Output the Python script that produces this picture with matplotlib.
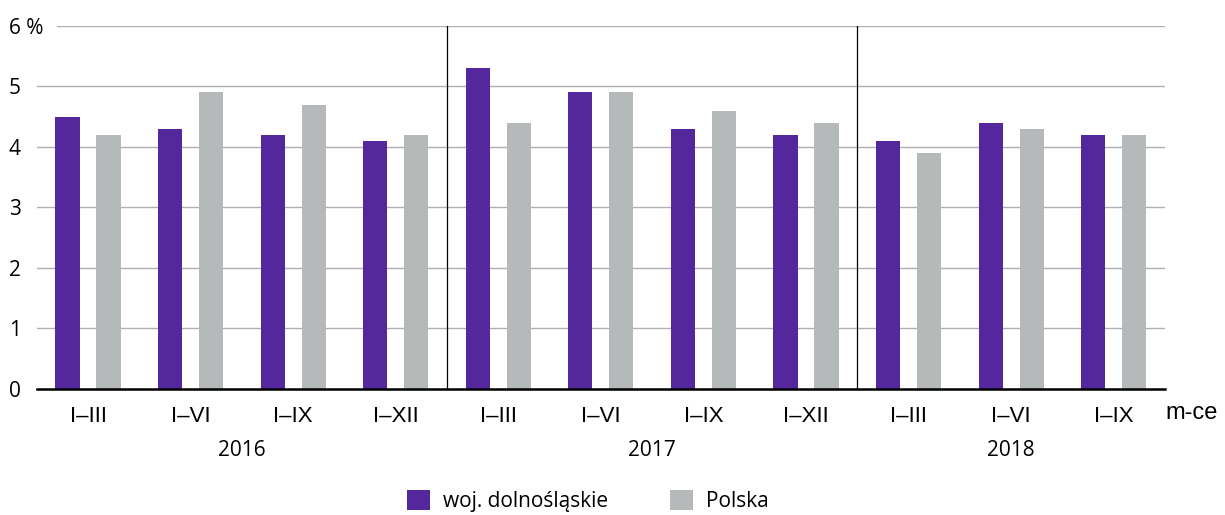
import matplotlib.pyplot as plt
import numpy as np

# Data
periods = ['I–III', 'I–VI', 'I–IX', 'I–XII',
           'I–III', 'I–VI', 'I–IX', 'I–XII',
           'I–III', 'I–VI', 'I–IX']
years = ['2016', '2017', '2018']
year_sizes = [4, 4, 3]
dolnoslaskie = [4.5, 4.3, 4.2, 4.1, 5.3, 4.9, 4.3, 4.2, 4.1, 4.4, 4.2]
polska = [4.2, 4.9, 4.7, 4.2, 4.4, 4.9, 4.6, 4.4, 3.9, 4.3, 4.2]
ylabels = ['0', '1', '2', '3', '4', '5', '6 %']

purple = '#54289c'
grey = '#b6b9b9'

fig = plt.figure(figsize=(12.25, 5.15), dpi=100)
ax = fig.add_axes([0.030, 0.2447, 0.921, 0.705])

x = np.arange(len(periods))
w = 0.235
ax.bar(x - 0.2, dolnoslaskie, w, color=purple, label='woj. dolnośląskie', zorder=3)
ax.bar(x + 0.2, polska, w, color=grey, label='Polska', zorder=3)

ax.set_xlim(-0.5, len(periods) - 0.5)
ax.set_ylim(0, 6)
ax.set_yticks(range(7))
ax.set_yticklabels(ylabels, fontsize=15, family='Open Sans', ha='left')
# gridlines (top one shortened to leave room for the "6 %" label)
for v in range(1, 7):
    ax.axhline(v, xmin=0.0177 if v == 6 else 0, color='#b0b0b0', lw=1, zorder=0)
ax.tick_params(axis='y', length=0, pad=20)
ax.tick_params(axis='x', length=0, pad=12)
ax.set_xticks(x)
ax.set_xticklabels(periods, fontsize=16, family='Liberation Sans')

for s in ['top', 'right', 'left']:
    ax.spines[s].set_visible(False)
ax.spines['bottom'].set_linewidth(1.8)
ax.spines['bottom'].set_zorder(4)

# year separators and labels
start = 0
for i, (yr, n) in enumerate(zip(years, year_sizes)):
    if i > 0:
        ax.axvline(start - 0.5, color='black', lw=0.9, zorder=2)
    ax.text(start + (n - 1) / 2, -1.02, yr, ha='center', va='center',
            fontsize=15, family='Open Sans')
    start += n

ax.text(1.0, -0.4, 'm-ce', transform=ax.get_yaxis_transform(), fontsize=17,
        family='Liberation Sans', ha='left', va='center')

fig.legend(loc='lower center', bbox_to_anchor=(0.48, -0.03), ncol=2, frameon=False,
           prop={'family': 'Open Sans', 'size': 15},
           handlelength=1.1, handleheight=1.1, columnspacing=3, handletextpad=0.6)

fig.savefig('out.png', dpi=100)
